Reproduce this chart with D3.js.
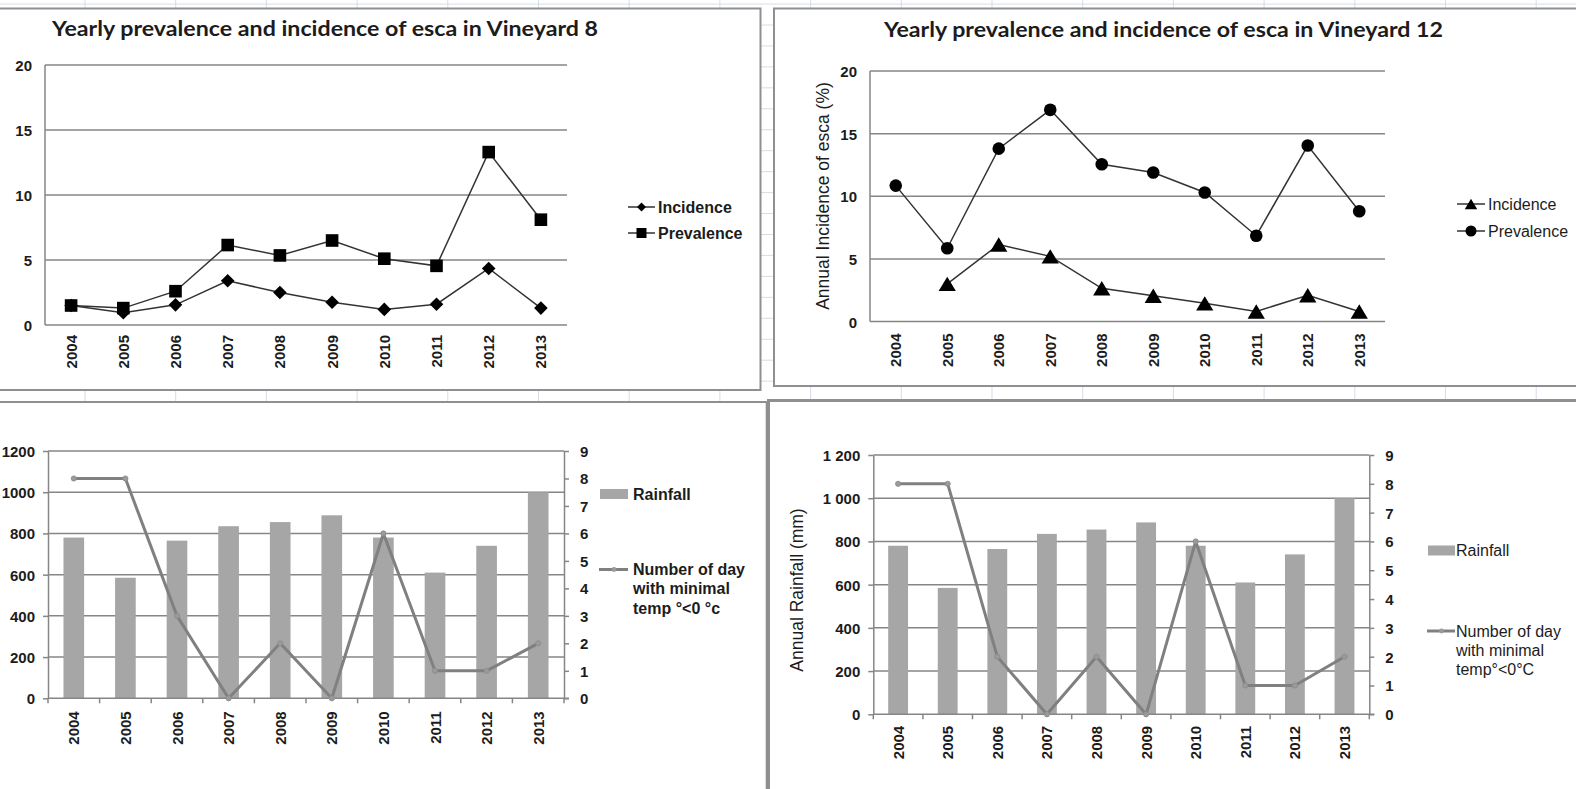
<!DOCTYPE html>
<html>
<head>
<meta charset="utf-8">
<script src="https://cdn.jsdelivr.net/npm/d3@7"></script>
<style>
  html, body { margin: 0; padding: 0; background: #fff; overflow: hidden; }
  svg { display: block; }
</style>
</head>
<body>
<svg id="sheet" width="1576" height="789"></svg>
<script>
// ---- data ----------------------------------------------------------
const years = ["2004", "2005", "2006", "2007", "2008", "2009", "2010", "2011", "2012", "2013"];

// Vineyard 8 (%)
const v8Incidence  = [1.5, 0.95, 1.55, 3.4, 2.5, 1.75, 1.2, 1.6, 4.35, 1.3];
const v8Prevalence = [1.5, 1.3, 2.6, 6.15, 5.35, 6.5, 5.1, 4.55, 13.3, 8.1];

// Vineyard 12 (%)
const v12Incidence  = [null, 3.0, 6.15, 5.2, 2.65, 2.05, 1.45, 0.8, 2.1, 0.8];
const v12Prevalence = [10.85, 5.85, 13.8, 16.9, 12.55, 11.9, 10.3, 6.85, 14.05, 8.8];

// Annual rainfall (mm) and number of days with minimal temperature below 0 °C
const rainfall     = [780, 585, 765, 835, 855, 888, 780, 610, 740, 1000];
const frostDaysV8  = [8, 8, 3, 0, 2, 0, 6, 1, 1, 2];
const frostDaysV12 = [8, 8, 2, 0, 2, 0, 6, 1, 1, 2];

// tick labels
const pctTicks  = [0, 5, 10, 15, 20];
const rainTicks = [0, 200, 400, 600, 800, 1000, 1200];
const dayTicks  = [0, 1, 2, 3, 4, 5, 6, 7, 8, 9];

// ---- styles --------------------------------------------------------
const SANS = "'Liberation Sans', Arial, sans-serif";
const TITLE = "Lato, 'Open Sans', sans-serif";
const INK = "#1c1c1c";
const GRID = "#868686";
const FRAME = "#8f8f8f";
const SERIES_LINE = "#333";
const BAR = "#a6a6a6";
const TEMP_LINE = "#808080";

const svg = d3.select("#sheet");
svg.append("rect").attr("width", 1576).attr("height", 789).attr("fill", "#fff");

// worksheet cell grid behind the chart objects
const sheet = svg.append("g").attr("stroke", "#d5dde9").attr("stroke-width", 1);
sheet.selectAll("line.col").data(d3.range(-1, 18).map(k => 85 + k * 90.7)).join("line")
  .attr("x1", d => d).attr("x2", d => d).attr("y1", 0).attr("y2", 789);
sheet.selectAll("line.row").data(d3.range(-2, 38).map(k => 25 + k * 20.95)).join("line")
  .attr("x1", 0).attr("x2", 1576).attr("y1", d => d).attr("y2", d => d);

// chart object frames
const frames = [
  { x: -5, y: 8.5, w: 765.5, h: 381.5, sw: 2 },
  { x: 774, y: 8.5, w: 810, h: 377.5, sw: 2 },
  { x: -5, y: 402, w: 771.7, h: 400, sw: 2 },
  { x: 768.5, y: 400.5, w: 820, h: 400, sw: 3 }
];
svg.selectAll("rect.frame").data(frames).join("rect")
  .attr("x", d => d.x).attr("y", d => d.y).attr("width", d => d.w).attr("height", d => d.h)
  .attr("fill", "#fff").attr("stroke", FRAME).attr("stroke-width", d => d.sw);

// ---- marker shapes -------------------------------------------------
function marker(sel, kind, s) {
  if (kind === "diamond") {
    sel.append("path").attr("d", `M0,${-s}L${s},0L0,${s}L${-s},0Z`).attr("fill", "#000");
  } else if (kind === "square") {
    sel.append("rect").attr("x", -s).attr("y", -s).attr("width", 2 * s).attr("height", 2 * s).attr("fill", "#000");
  } else if (kind === "circle") {
    sel.append("circle").attr("r", s).attr("fill", "#000");
  } else if (kind === "triangle") {
    sel.append("path").attr("d", `M0,${-s}L${s * 1.2},${s}L${-s * 1.2},${s}Z`).attr("fill", "#000");
  }
}

function bandScale(p) {
  return d3.scaleBand().domain(years).range([p.l, p.r]).paddingInner(0.6).paddingOuter(0.3);
}
const mid = x => d => x(d) + x.bandwidth() / 2;

function xLabels(g, x, y0, bold) {
  const cx = mid(x);
  g.append("g").selectAll("text").data(years).join("text")
    .attr("transform", d => `translate(${cx(d)},${y0}) rotate(-90)`)
    .attr("text-anchor", "end").attr("dominant-baseline", "central")
    .attr("font-family", SANS).attr("font-weight", bold ? 700 : 400)
    .attr("font-size", 15).attr("fill", INK)
    .text(d => d);
}

function yTitle(g, text, cx, cy) {
  g.append("text").attr("transform", `translate(${cx},${cy}) rotate(-90)`)
    .attr("text-anchor", "middle").attr("dominant-baseline", "central")
    .attr("font-family", SANS).attr("font-size", 17.5).attr("fill", INK).text(text);
}

// ---- prevalence / incidence line chart ------------------------------
function linePanel(cfg) {
  const p = cfg.plot;
  const g = svg.append("g");
  const x = bandScale(p);
  const cx = mid(x);
  const y = d3.scaleLinear().domain([0, 20]).range([p.b, p.t]);

  g.append("text").attr("x", cfg.titleX).attr("y", cfg.titleY)
    .attr("font-family", TITLE).attr("font-weight", 700).attr("font-size", 21)
    .attr("textLength", cfg.titleLen).attr("lengthAdjust", "spacingAndGlyphs")
    .attr("fill", INK).text(cfg.title);

  // horizontal gridlines
  g.append("g").selectAll("line").data(pctTicks).join("line")
    .attr("x1", p.l).attr("x2", p.r).attr("y1", d => y(d)).attr("y2", d => y(d))
    .attr("stroke", GRID).attr("stroke-width", 1.5);
  g.append("line").attr("x1", p.l).attr("x2", p.l).attr("y1", p.t).attr("y2", p.b)
    .attr("stroke", GRID).attr("stroke-width", 1.5);

  const ax = g.append("g").attr("transform", `translate(${p.l},0)`)
    .call(d3.axisLeft(y).tickValues(pctTicks).tickSize(0).tickPadding(13));
  ax.select(".domain").remove();
  ax.selectAll("text").attr("font-family", SANS).attr("font-weight", 700)
    .attr("font-size", 15).attr("fill", INK).attr("dy", null).attr("dominant-baseline", "central");

  xLabels(g, x, p.b + cfg.xGap, true);
  if (cfg.yTitle) yTitle(g, cfg.yTitle.text, cfg.yTitle.x, cfg.yTitle.y);

  const line = d3.line().defined(d => d.v != null).x(d => cx(d.year)).y(d => y(d.v));
  cfg.series.forEach(s => {
    const pts = years.map((yr, i) => ({ year: yr, v: s.values[i] }));
    g.append("path").attr("d", line(pts)).attr("fill", "none")
      .attr("stroke", SERIES_LINE).attr("stroke-width", 1.5);
  });
  cfg.series.forEach(s => {
    const pts = years.map((yr, i) => ({ year: yr, v: s.values[i] })).filter(d => d.v != null);
    g.append("g").selectAll("g").data(pts).join("g")
      .attr("transform", d => `translate(${cx(d.year)},${y(d.v)})`)
      .each(function () { marker(d3.select(this), s.marker, s.size); });
  });

  // legend
  const L = cfg.legend;
  cfg.series.forEach((s, i) => {
    const row = g.append("g").attr("transform", `translate(${L.x},${L.y + i * L.step})`);
    row.append("line").attr("x1", 0).attr("x2", L.w).attr("stroke", SERIES_LINE).attr("stroke-width", 1.5);
    const m = row.append("g").attr("transform", `translate(${L.w / 2},0)`);
    marker(m, s.marker, s.legendSize);
    row.append("text").attr("x", L.w + 3).attr("dominant-baseline", "central")
      .attr("font-family", SANS).attr("font-weight", L.bold ? 700 : 400).attr("font-size", 16)
      .attr("fill", INK).text(s.name);
  });
}

// ---- rainfall / frost combo chart ----------------------------------
function comboPanel(cfg) {
  const p = cfg.plot;
  const g = svg.append("g");
  const x = bandScale(p);
  const cx = mid(x);
  const yR = d3.scaleLinear().domain([0, 1200]).range([p.b, p.t]);
  const yD = d3.scaleLinear().domain([0, 9]).range([p.b, p.t]);
  const fmt = cfg.spaced
    ? d3.formatLocale({ decimal: ".", thousands: " ", grouping: [3], currency: ["", ""] }).format(",")
    : d3.format("d");

  g.append("g").selectAll("line").data(rainTicks.slice(1)).join("line")
    .attr("x1", p.l).attr("x2", p.r).attr("y1", d => yR(d)).attr("y2", d => yR(d))
    .attr("stroke", GRID).attr("stroke-width", 1.5);

  g.append("g").selectAll("rect").data(years).join("rect")
    .attr("x", d => x(d)).attr("width", x.bandwidth())
    .attr("y", (d, i) => yR(rainfall[i])).attr("height", (d, i) => p.b - yR(rainfall[i]))
    .attr("fill", BAR);

  const styleAxis = a => {
    a.select(".domain").attr("stroke", GRID).attr("stroke-width", 1.5);
    a.selectAll(".tick line").attr("stroke", GRID).attr("stroke-width", 1.5);
    a.selectAll("text").attr("font-family", SANS).attr("font-weight", 700)
      .attr("font-size", 15).attr("fill", INK).attr("dy", null).attr("dominant-baseline", "central");
  };
  const left = g.append("g").attr("transform", `translate(${p.l},0)`)
    .call(d3.axisLeft(yR).tickValues(rainTicks).tickFormat(fmt).tickSizeInner(5).tickSizeOuter(0).tickPadding(cfg.leftPad));
  styleAxis(left);
  const right = g.append("g").attr("transform", `translate(${p.r},0)`)
    .call(d3.axisRight(yD).tickValues(dayTicks).tickSizeInner(5).tickSizeOuter(0).tickPadding(cfg.rightPad));
  styleAxis(right);

  // category axis with tick marks between bars
  const step = x.step();
  g.append("line").attr("x1", p.l).attr("x2", p.r + 5).attr("y1", p.b).attr("y2", p.b)
    .attr("stroke", GRID).attr("stroke-width", 1.5);
  g.append("g").selectAll("line").data(d3.range(years.length + 1)).join("line")
    .attr("x1", i => p.l + i * step).attr("x2", i => p.l + i * step)
    .attr("y1", p.b).attr("y2", p.b + 5).attr("stroke", GRID).attr("stroke-width", 1.5);

  xLabels(g, x, p.b + cfg.xGap, true);
  if (cfg.yTitle) yTitle(g, cfg.yTitle.text, cfg.yTitle.x, cfg.yTitle.y);

  const pts = years.map((yr, i) => ({ year: yr, v: cfg.days[i] }));
  g.append("path").attr("d", d3.line().x(d => cx(d.year)).y(d => yD(d.v))(pts))
    .attr("fill", "none").attr("stroke", TEMP_LINE).attr("stroke-width", 3).attr("stroke-linejoin", "round");
  g.append("g").selectAll("circle").data(pts).join("circle")
    .attr("cx", d => cx(d.year)).attr("cy", d => yD(d.v)).attr("r", 2.6)
    .attr("fill", "#9a9a9a").attr("stroke", "#8a8a8a").attr("stroke-width", 0.8);

  // legend
  const L = cfg.legend;
  const txt = (sel) => sel.attr("font-family", SANS).attr("font-weight", L.bold ? 700 : 400)
    .attr("font-size", 16).attr("fill", INK).attr("dominant-baseline", "central");
  g.append("rect").attr("x", L.x).attr("y", L.rainY - 5).attr("width", L.w).attr("height", 10).attr("fill", BAR);
  g.append("text").attr("x", L.x + L.w + L.gap).attr("y", L.rainY).call(txt).text("Rainfall");
  g.append("line").attr("x1", L.x - 1).attr("x2", L.x + L.w).attr("y1", L.dayY).attr("y2", L.dayY)
    .attr("stroke", TEMP_LINE).attr("stroke-width", 3);
  g.append("circle").attr("cx", L.x + L.w / 2).attr("cy", L.dayY).attr("r", 2.4).attr("fill", "#9a9a9a");
  L.dayText.forEach((t, i) => {
    g.append("text").attr("x", L.x + L.w + L.gap).attr("y", L.dayY + i * 19.3).call(txt).text(t);
  });
}

// ---- the four panels -----------------------------------------------
linePanel({
  plot: { l: 45, t: 65, r: 567, b: 325 },
  title: "Yearly prevalence and incidence of esca in  Vineyard 8",
  titleX: 52, titleY: 35.5, titleLen: 546,
  xGap: 10,
  series: [
    { name: "Incidence", values: v8Incidence, marker: "diamond", size: 6.8, legendSize: 4.5 },
    { name: "Prevalence", values: v8Prevalence, marker: "square", size: 6.3, legendSize: 5 }
  ],
  legend: { x: 628, y: 207, step: 26, w: 27, bold: true }
});

linePanel({
  plot: { l: 870, t: 71, r: 1385, b: 321.5 },
  title: "Yearly prevalence and incidence of esca in  Vineyard 12",
  titleX: 884, titleY: 37, titleLen: 559,
  xGap: 12,
  yTitle: { text: "Annual Incidence of esca (%)", x: 823, y: 196 },
  series: [
    { name: "Incidence", values: v12Incidence, marker: "triangle", size: 7.2, legendSize: 5.2 },
    { name: "Prevalence", values: v12Prevalence, marker: "circle", size: 6.3, legendSize: 5.5 }
  ],
  legend: { x: 1457, y: 204, step: 27, w: 28, bold: false }
});

comboPanel({
  plot: { l: 48, t: 451, r: 564, b: 698.3 },
  days: frostDaysV8,
  spaced: false, leftPad: 8, rightPad: 11, xGap: 13,
  legend: { x: 600, w: 28, gap: 5, rainY: 494, dayY: 569.5, bold: true,
            dayText: ["Number of day", "with minimal", "temp \u00b0<0 \u00b0c"] }
});

comboPanel({
  plot: { l: 873.3, t: 455, r: 1369.3, b: 714.3 },
  days: frostDaysV12,
  spaced: true, leftPad: 8, rightPad: 11, xGap: 11.5,
  yTitle: { text: "Annual Rainfall (mm)", x: 796.7, y: 590 },
  legend: { x: 1428, w: 27, gap: 1, rainY: 550.5, dayY: 631, bold: false,
            dayText: ["Number of day", "with minimal", "temp\u00b0<0\u00b0C"] }
});
</script>
</body>
</html>
